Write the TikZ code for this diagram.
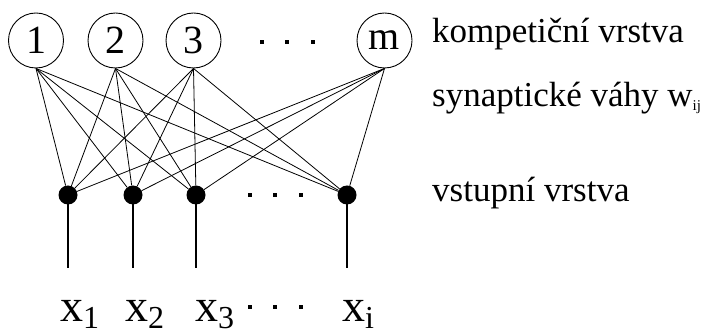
\documentclass[tikz,border=0pt]{standalone}
\usepackage{fontspec}
\setmainfont{Liberation Serif}
\begin{document}
\begin{tikzpicture}[x=1pt, y=-1pt,
	neuron/.style={
		draw, circle, line width=0.9pt,
		minimum size=55pt, inner sep=0pt,
		font=\fontsize{40}{40}\selectfont
	},
	inp/.style={circle, fill=black, minimum size=19pt, inner sep=0pt},
	conn/.style={line width=0.8pt},
	stem/.style={line width=1.4pt},
	ell/.style={fill=black, minimum size=3.5pt, inner sep=0pt},
	lbl/.style={anchor=base west, inner sep=0pt, font=\fontsize{35}{35}\selectfont},
	var/.style={anchor=base west, inner sep=0pt, font=\fontsize{46}{46}\selectfont},
	]
	\useasboundingbox (0,0) rectangle (703,336);
	
	% competitive layer
	\node[neuron] (c1) at (36, 40.5)   {1};
	\node[neuron] (c2) at (115.5, 40.5) {2};
	\node[neuron] (c3) at (193.5, 40.5) {3};
	\node[neuron] (cm) at (384.5, 40.5) {m};
	\node[ell] (e1) at (262, 42) {};
	\node[ell] (e2) at (287, 42) {};
	\node[ell] (e3) at (313, 42) {};
	
	% input layer
	\node[inp] (d1) at (68, 195)  {};
	\node[inp] (d2) at (133, 195) {};
	\node[inp] (d3) at (196, 195) {};
	\node[inp] (di) at (347, 195) {};
	\node[ell] (f1) at (250, 195) {};
	\node[ell] (f2) at (275, 195) {};
	\node[ell] (f3) at (301, 195) {};
	
	% weights
	\draw[conn] (c1.south) -- (d1);
	\draw[conn] (c1.south) -- (d2);
	\draw[conn] (c1.south) -- (d3);
	\draw[conn] (c1.south) -- (di);
	\draw[conn] (c2.south) -- (d1);
	\draw[conn] (c2.south) -- (d2);
	\draw[conn] (c2.south) -- (d3);
	\draw[conn] (c2.south) -- (di);
	\draw[conn] (c3.south) -- (d1);
	\draw[conn] (c3.south) -- (d2);
	\draw[conn] (c3.south) -- (d3);
	\draw[conn] (c3.south) -- (di);
	\draw[conn] (cm.south) -- (d1);
	\draw[conn] (cm.south) -- (d2);
	\draw[conn] (cm.south) -- (d3);
	\draw[conn] (cm.south) -- (di);
	
	% inputs
	\coordinate (b1) at (68, 268);
	\coordinate (b2) at (133, 268);
	\coordinate (b3) at (196, 268);
	\coordinate (bi) at (347, 268);
	\draw[stem] (d1.center) -- (b1);
	\draw[stem] (d2.center) -- (b2);
	\draw[stem] (d3.center) -- (b3);
	\draw[stem] (di.center) -- (bi);
	
	\node[var] (x1) at (60, 321)  {x\raisebox{-7pt}{\fontsize{32}{32}\selectfont 1}};
	\node[var] (x2) at (125, 321) {x\raisebox{-7pt}{\fontsize{32}{32}\selectfont 2}};
	\node[var] (x3) at (195, 321) {x\raisebox{-7pt}{\fontsize{32}{32}\selectfont 3}};
	\node[var] (xi) at (342, 321) {x\raisebox{-7pt}{\fontsize{32}{32}\selectfont i}};
	\node[ell] (g1) at (250, 307) {};
	\node[ell] (g2) at (275, 307) {};
	\node[ell] (g3) at (301, 307) {};
	
	% layer names
	\node[lbl] (kv) at (432, 43)  {kompetiční vrstva};
	\node[lbl] (sv) at (432, 107) {synaptické váhy w\raisebox{-4pt}{\fontsize{15}{15}\selectfont ij}};
	\node[lbl] (vv) at (432, 202) {vstupní vrstva};
	
\end{tikzpicture}
\end{document}
